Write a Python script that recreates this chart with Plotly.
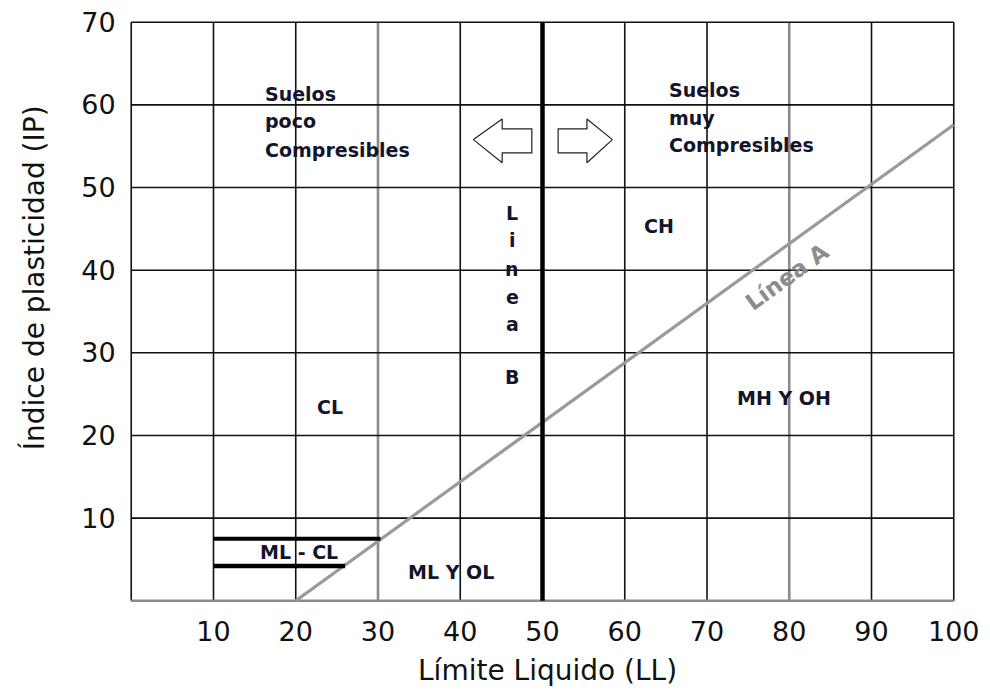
import plotly.graph_objects as go

# ---- data ----
x_grid = [0, 10, 20, 30, 40, 50, 60, 70, 80, 90, 100]
x_grid_colors = ["#111", "#111", "#111", "#8a8a8a", "#111", "#111", "#111", "#111", "#8a8a8a", "#111", "#111"]
y_grid = [0, 10, 20, 30, 40, 50, 60, 70]
y_grid_colors = ["#8a8a8a", "#111", "#111", "#111", "#111", "#111", "#111", "#111"]
x_ticks = [10, 20, 30, 40, 50, 60, 70, 80, 90, 100]
y_ticks = [10, 20, 30, 40, 50, 60, 70]

linea_a_ll = [20, 100]
linea_a_ip = [0, 57.6]
linea_b_ll = [50, 50]
linea_b_ip = [0, 70]
mlcl_top_ll = [10, 30.3]
mlcl_top_ip = [7.5, 7.5]
mlcl_bot_ll = [10, 26]
mlcl_bot_ip = [4.2, 4.2]

arrow_left_x = [41.6, 45.1, 45.1, 48.7, 48.7, 45.1, 45.1, 41.6]
arrow_left_y = [55.8, 58.3, 57.1, 57.1, 54.2, 54.2, 53.0, 55.8]
arrow_right_x = [58.5, 55.4, 55.4, 51.9, 51.9, 55.4, 55.4, 58.5]
arrow_right_y = [55.8, 58.3, 57.1, 57.1, 54.2, 54.2, 53.0, 55.8]

zone_labels = ["CL", "CH", "MH Y OH", "ML Y OL", "ML - CL"]
zone_x = [24.2, 64.2, 79.4, 38.9, 20.4]
zone_y = [23.4, 45.3, 24.5, 3.5, 5.9]

left_lines = ["Suelos", "poco", "Compresibles"]
left_x = 16.0
left_y = [61.3, 58.0, 54.6]
right_lines = ["Suelos", "muy", "Compresibles"]
right_x = 65.1
right_y = [61.8, 58.4, 55.1]

lineab_letters = ["L", "i", "n", "e", "a", "B"]
lineab_x = 46.3
lineab_y = [46.9, 43.6, 40.2, 36.7, 33.5, 27.1]

x_title = "Límite Liquido (LL)"
y_title = "Índice de plasticidad (IP)"

fig = go.Figure()

# grid lines
for gx, c in zip(x_grid, x_grid_colors):
    w = 2.6 if c == "#8a8a8a" else 1.6
    fig.add_trace(go.Scatter(x=[gx, gx], y=[0, 70], mode="lines",
                             line=dict(color=c, width=w), hoverinfo="skip", showlegend=False))
for gy, c in zip(y_grid, y_grid_colors):
    w = 2.4 if c == "#8a8a8a" else 1.6
    fig.add_trace(go.Scatter(x=[0, 100], y=[gy, gy], mode="lines",
                             line=dict(color=c, width=w), hoverinfo="skip", showlegend=False))

# Linea A
fig.add_trace(go.Scatter(x=linea_a_ll, y=linea_a_ip, mode="lines",
                         line=dict(color="#9a9a9a", width=3.2), showlegend=False))
# Linea B
fig.add_trace(go.Scatter(x=linea_b_ll, y=linea_b_ip, mode="lines",
                         line=dict(color="#000", width=4.5), showlegend=False))
# ML-CL band
fig.add_trace(go.Scatter(x=mlcl_top_ll, y=mlcl_top_ip, mode="lines",
                         line=dict(color="#000", width=4), showlegend=False))
fig.add_trace(go.Scatter(x=mlcl_bot_ll, y=mlcl_bot_ip, mode="lines",
                         line=dict(color="#000", width=4.5), showlegend=False))

# arrows
for ax_, ay_ in [(arrow_left_x, arrow_left_y), (arrow_right_x, arrow_right_y)]:
    fig.add_trace(go.Scatter(x=ax_, y=ay_, mode="lines", fill="toself", fillcolor="white",
                             line=dict(color="#222", width=1.2), showlegend=False))

lbl_font = dict(family="DejaVu Sans", size=19, color="#14142a", weight="bold")
ann = []
for t, x, y in zip(zone_labels, zone_x, zone_y):
    ann.append(dict(x=x, y=y, text=t, showarrow=False, font=lbl_font, xanchor="center", yanchor="middle"))
for t, y in zip(left_lines, left_y):
    ann.append(dict(x=left_x, y=y, text=t, showarrow=False, font=lbl_font, xanchor="left", yanchor="middle"))
for t, y in zip(right_lines, right_y):
    ann.append(dict(x=right_x, y=y, text=t, showarrow=False, font=lbl_font, xanchor="left", yanchor="middle"))
for t, y in zip(lineab_letters, lineab_y):
    ann.append(dict(x=lineab_x, y=y, text=t, showarrow=False, font=lbl_font, xanchor="center", yanchor="middle"))
ann.append(dict(x=79.7, y=39.2, text="Línea A", showarrow=False, textangle=-36,
                font=dict(family="DejaVu Sans", size=23, color="#8c8c8c", weight="bold")))

title_font = dict(family="DejaVu Sans", size=28, color="#111")
ann.append(dict(xref="paper", yref="paper", x=0.5055, y=-0.118, text=x_title, showarrow=False,
                xanchor="center", yanchor="middle", font=title_font))
ann.append(dict(xref="paper", yref="paper", x=-0.1164, y=0.559, text=y_title, showarrow=False,
                xanchor="center", yanchor="middle", textangle=-90, font=title_font))

fig.update_layout(
    width=982, height=684,
    margin=dict(l=122, r=35, t=13, b=90),
    paper_bgcolor="white", plot_bgcolor="white",
    annotations=ann,
    font=dict(family="DejaVu Sans", color="#111"),
    xaxis=dict(range=[-0.15, 100.15], tickvals=x_ticks, showgrid=False, zeroline=False, showline=False,
               automargin=False, ticklabeloverflow="allow",
               ticks="outside", ticklen=6, tickcolor="rgba(0,0,0,0)",
               tickfont=dict(family="DejaVu Sans", size=27, color="#111")),
    yaxis=dict(range=[-0.15, 70.15], tickvals=y_ticks, showgrid=False, zeroline=False, showline=False,
               automargin=False, ticklabeloverflow="allow",
               ticks="outside", ticklen=8, tickcolor="rgba(0,0,0,0)",
               tickfont=dict(family="DejaVu Sans", size=27, color="#111")),
)

fig.write_html("out.html")
